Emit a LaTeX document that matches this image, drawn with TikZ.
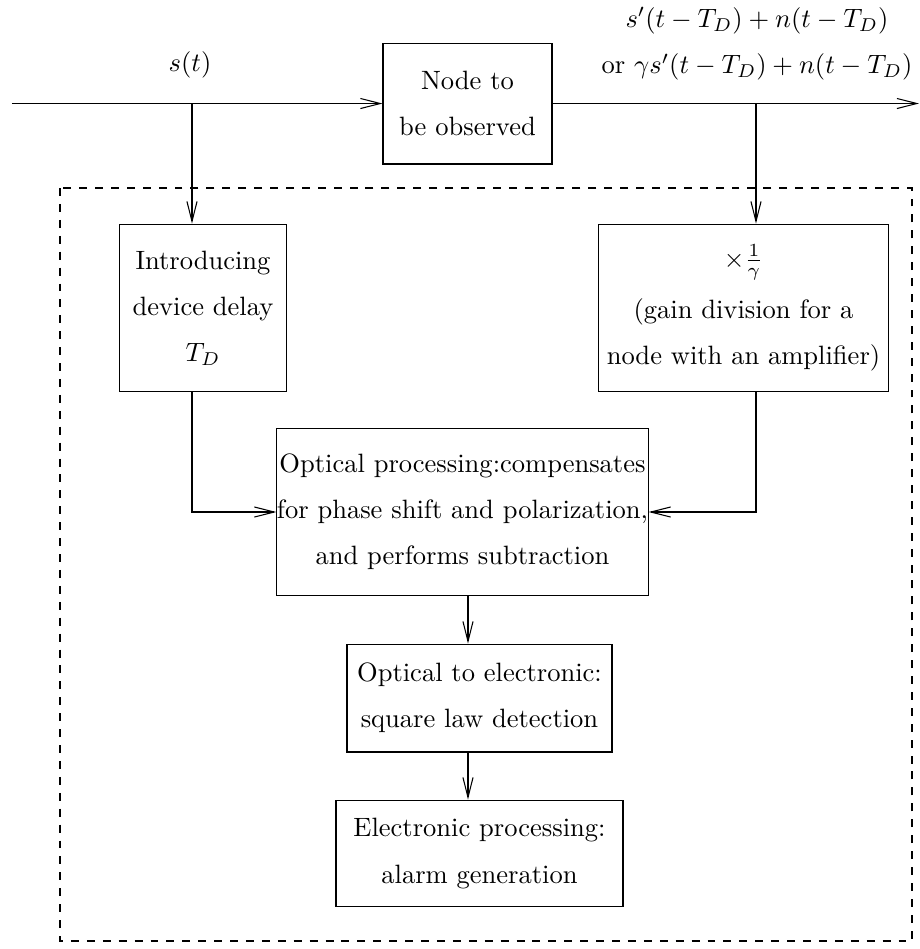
\documentclass[tikz,border=0pt]{standalone}
\usepackage{amsmath,amssymb}
\usetikzlibrary{arrows.meta,positioning,calc}

\begin{document}
\begin{tikzpicture}[x=0.377pt,y=-0.377pt,font=\fontsize{10}{17.4}\selectfont,
  >={Straight Barb[length=7.5pt,width=3.8pt]},
  blk/.style={draw,align=center,inner sep=0pt}]
  \useasboundingbox (0,0) rectangle (920,949);
  % signal path and node under test
  \node[blk,minimum width=63.7pt,minimum height=45.6pt] (obs) at (467.5,103.5) {Node to\\be observed};
  \coordinate (in) at (12,103.5);
  \coordinate (out) at (919,103.5);
  \coordinate (tapL) at (192,103.5);
  \coordinate (tapR) at (756,103.5);
  \node (sin) at (190,65) {$s(t)$};
  \node[align=center] (sout) at (757,44) {$s'(t-T_D)+n(t-T_D)$\\or $\gamma s'(t-T_D)+n(t-T_D)$};
  \draw[->] (in) -- (obs.west);
  \draw[->] (obs.east) -- (out);
  % monitoring unit
  \draw[dashed] (60,188) rectangle (912,941);
  \node[blk,minimum width=63.3pt,minimum height=63.3pt] (delay) at (203,308) {Introducing\\device delay\\$T_D$};
  \node[blk,minimum width=109pt,minimum height=63.3pt] (gain) at (743.5,308) {$\times\frac{1}{\gamma}$\\[2pt](gain division for a\\node with an amplifier)};
  \node[blk,minimum width=132.3pt,minimum height=63.3pt] (opt) at (462.5,512) {Optical processing:compensates\\for phase shift and polarization,\\and performs subtraction};
  \node[blk,minimum width=99.9pt,minimum height=40.7pt] (det) at (479.5,698) {Optical to electronic:\\square law detection};
  \node[blk,minimum width=108.2pt,minimum height=40.3pt] (alarm) at (479.5,853.5) {Electronic processing:\\alarm generation};
  \coordinate (mid) at (468,0);
  \draw[->] (tapL) -- (tapL |- delay.north);
  \draw[->] (tapR) -- (tapR |- gain.north);
  \draw[->] (tapL |- delay.south) |- (opt.west);
  \draw[->] (tapR |- gain.south) |- (opt.east);
  \draw[->] (mid |- opt.south) -- (mid |- det.north);
  \draw[->] (mid |- det.south) -- (mid |- alarm.north);
\end{tikzpicture}
\end{document}
